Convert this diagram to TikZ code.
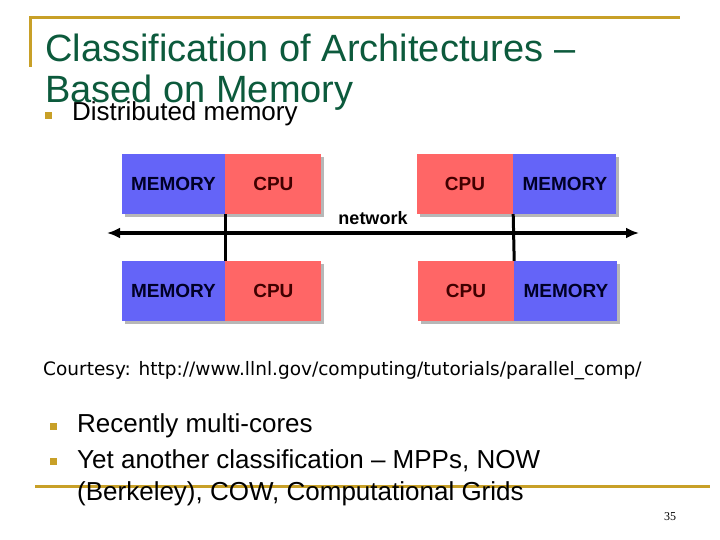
\documentclass[tikz,border=0pt]{standalone}
\usepackage{fontspec}
\setmainfont{Liberation Sans}
\newfontfamily\courtesyfont{DejaVu Sans}
\newfontfamily\pagefont{Liberation Serif}
\usetikzlibrary{positioning, arrows.meta, shadows}

\definecolor{slidegold}{RGB}{200,160,40}
\definecolor{titlegreen}{RGB}{12,90,60}
\definecolor{memblue}{RGB}{100,100,248}
\definecolor{cpured}{RGB}{255,102,102}

\begin{document}
\begin{tikzpicture}[
    x=1pt, y=-1pt,
    node distance=0pt,
    unit/.style={minimum height=60pt, inner sep=0pt, font=\fontsize{19}{19}\selectfont\bfseries,
      drop shadow={shadow xshift=3pt, shadow yshift=-3pt, opacity=.4, fill=black!70}},
    memblock/.style={unit, fill=memblue, text=black!85!blue, minimum width=103pt},
    cpublock/.style={unit, fill=cpured, text=black!75!red, minimum width=96pt},
    bulletmark/.style={fill=slidegold, minimum size=7pt, inner sep=0pt},
    slidetext/.style={anchor=base west, inner sep=0pt, align=left},
    rule/.style={slidegold, line width=3pt},
    netline/.style={{Latex[length=13pt, width=11pt]}-{Latex[length=13pt, width=11pt]}, line width=3pt},
    link/.style={line width=3pt}
  ]
  \useasboundingbox (0,0) rectangle (720,540);

  % slide frame
  \draw[rule] (29,18) -- (680,18);
  \draw[rule] (30,18) -- (30,67);
  \draw[rule] (35,486) -- (710,486);

  % title and first bullet
  \node[slidetext, text=titlegreen, font=\fontsize{38}{41}\selectfont] (title) at (45,103)
    {Classification of Architectures –\\Based on Memory};
  \node[bulletmark] (b1) at (48.5,115.5) {};
  \node[slidetext, font=\fontsize{26}{30}\selectfont] (distmem) at (72,121) {Distributed memory};

  % processor blocks
  \node[memblock] (mem1) at (173.5,184) {MEMORY};
  \node[cpublock, right=of mem1] (cpu1) {CPU};
  \node[cpublock] (cpu2) at (465,184) {CPU};
  \node[memblock, right=of cpu2] (mem2) {MEMORY};
  \node[memblock] (mem3) at (173.5,291) {MEMORY};
  \node[cpublock, right=of mem3] (cpu3) {CPU};
  \node[cpublock] (cpu4) at (466,291) {CPU};
  \node[memblock, right=of cpu4] (mem4) {MEMORY};

  % network
  \coordinate (netL) at (107,233);
  \coordinate (netR) at (639,233);
  \draw[link] (mem1.south east) -- (mem3.north east);
  \draw[link] (cpu2.south east) -- (cpu4.north east);
  \draw[netline] (netL) -- node[above=3pt, font=\fontsize{18}{18}\selectfont\bfseries] (netlabel) {network} (netR);

  % source and remaining bullets
  \node[slidetext, font=\courtesyfont\fontsize{18.5}{20}\selectfont] (courtesy) at (43,375)
    {Courtesy: http://www.llnl.gov/computing/tutorials/parallel\_comp/};
  \node[bulletmark] (b2) at (53.5,426.5) {};
  \node[slidetext, font=\fontsize{26}{30}\selectfont] (multicore) at (77,432) {Recently multi-cores};
  \node[bulletmark] (b3) at (53.5,461.5) {};
  \node[slidetext, font=\fontsize{26}{32}\selectfont] (classes) at (77,500)
    {Yet another classification – MPPs, NOW\\(Berkeley), COW, Computational Grids};

  % page number
  \node[font=\pagefont\fontsize{12}{12}\selectfont, inner sep=0pt] (pageno) at (670,517) {35};
\end{tikzpicture}
\end{document}
